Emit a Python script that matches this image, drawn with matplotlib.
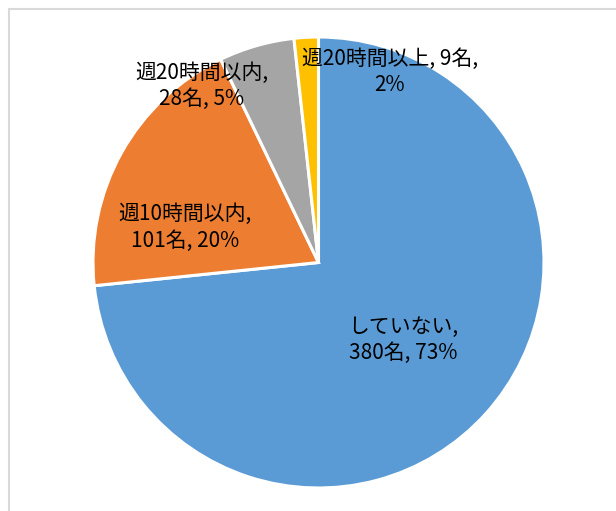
import matplotlib
matplotlib.use("Agg")
import matplotlib.pyplot as plt
from matplotlib.patches import Rectangle

plt.rcParams['font.family'] = ['Noto Sans CJK JP', 'DejaVu Sans']

categories = ["していない", "週10時間以内", "週20時間以内", "週20時間以上"]
counts = [380, 101, 28, 9]
percents = [73, 20, 5, 2]
colors = ["#5B9BD5", "#ED7D31", "#A5A5A5", "#FFC000"]

label_texts = [
    f"{categories[0]},\n{counts[0]}名, {percents[0]}%",
    f"{categories[1]},\n{counts[1]}名, {percents[1]}%",
    f"{categories[2]},\n{counts[2]}名, {percents[2]}%",
    f"{categories[3]}, {counts[3]}名,\n{percents[3]}%",
]
label_pos = [(0.375, -0.344), (-0.590, 0.155), (-0.517, 0.782), (0.317, 0.845)]

W, H = 616, 511
fig = plt.figure(figsize=(W / 100, H / 100), dpi=100)
ax = fig.add_axes([0, 0, 1, 1])

R = 225.5
cx, cy = 318.5, 262.5
ax.pie(counts, colors=colors, startangle=90, counterclock=False,
       radius=1.0, wedgeprops=dict(edgecolor="white", linewidth=2.2))
ax.set_aspect('auto')
ax.set_xlim(-cx / R, (W - cx) / R)
ax.set_ylim(-(H - cy) / R, cy / R)
ax.axis('off')

for txt, (x, y) in zip(label_texts, label_pos):
    ax.text(x, y, txt, ha='center', va='center', fontsize=15,
            color='#000000', linespacing=1.25)

fig.patches.append(Rectangle((9 / W, -0.1), 1.2, (H - 9) / H + 0.1,
                             transform=fig.transFigure, fill=False,
                             edgecolor="#D9D9D9", linewidth=1.5))

fig.savefig("out.png", dpi=100)
